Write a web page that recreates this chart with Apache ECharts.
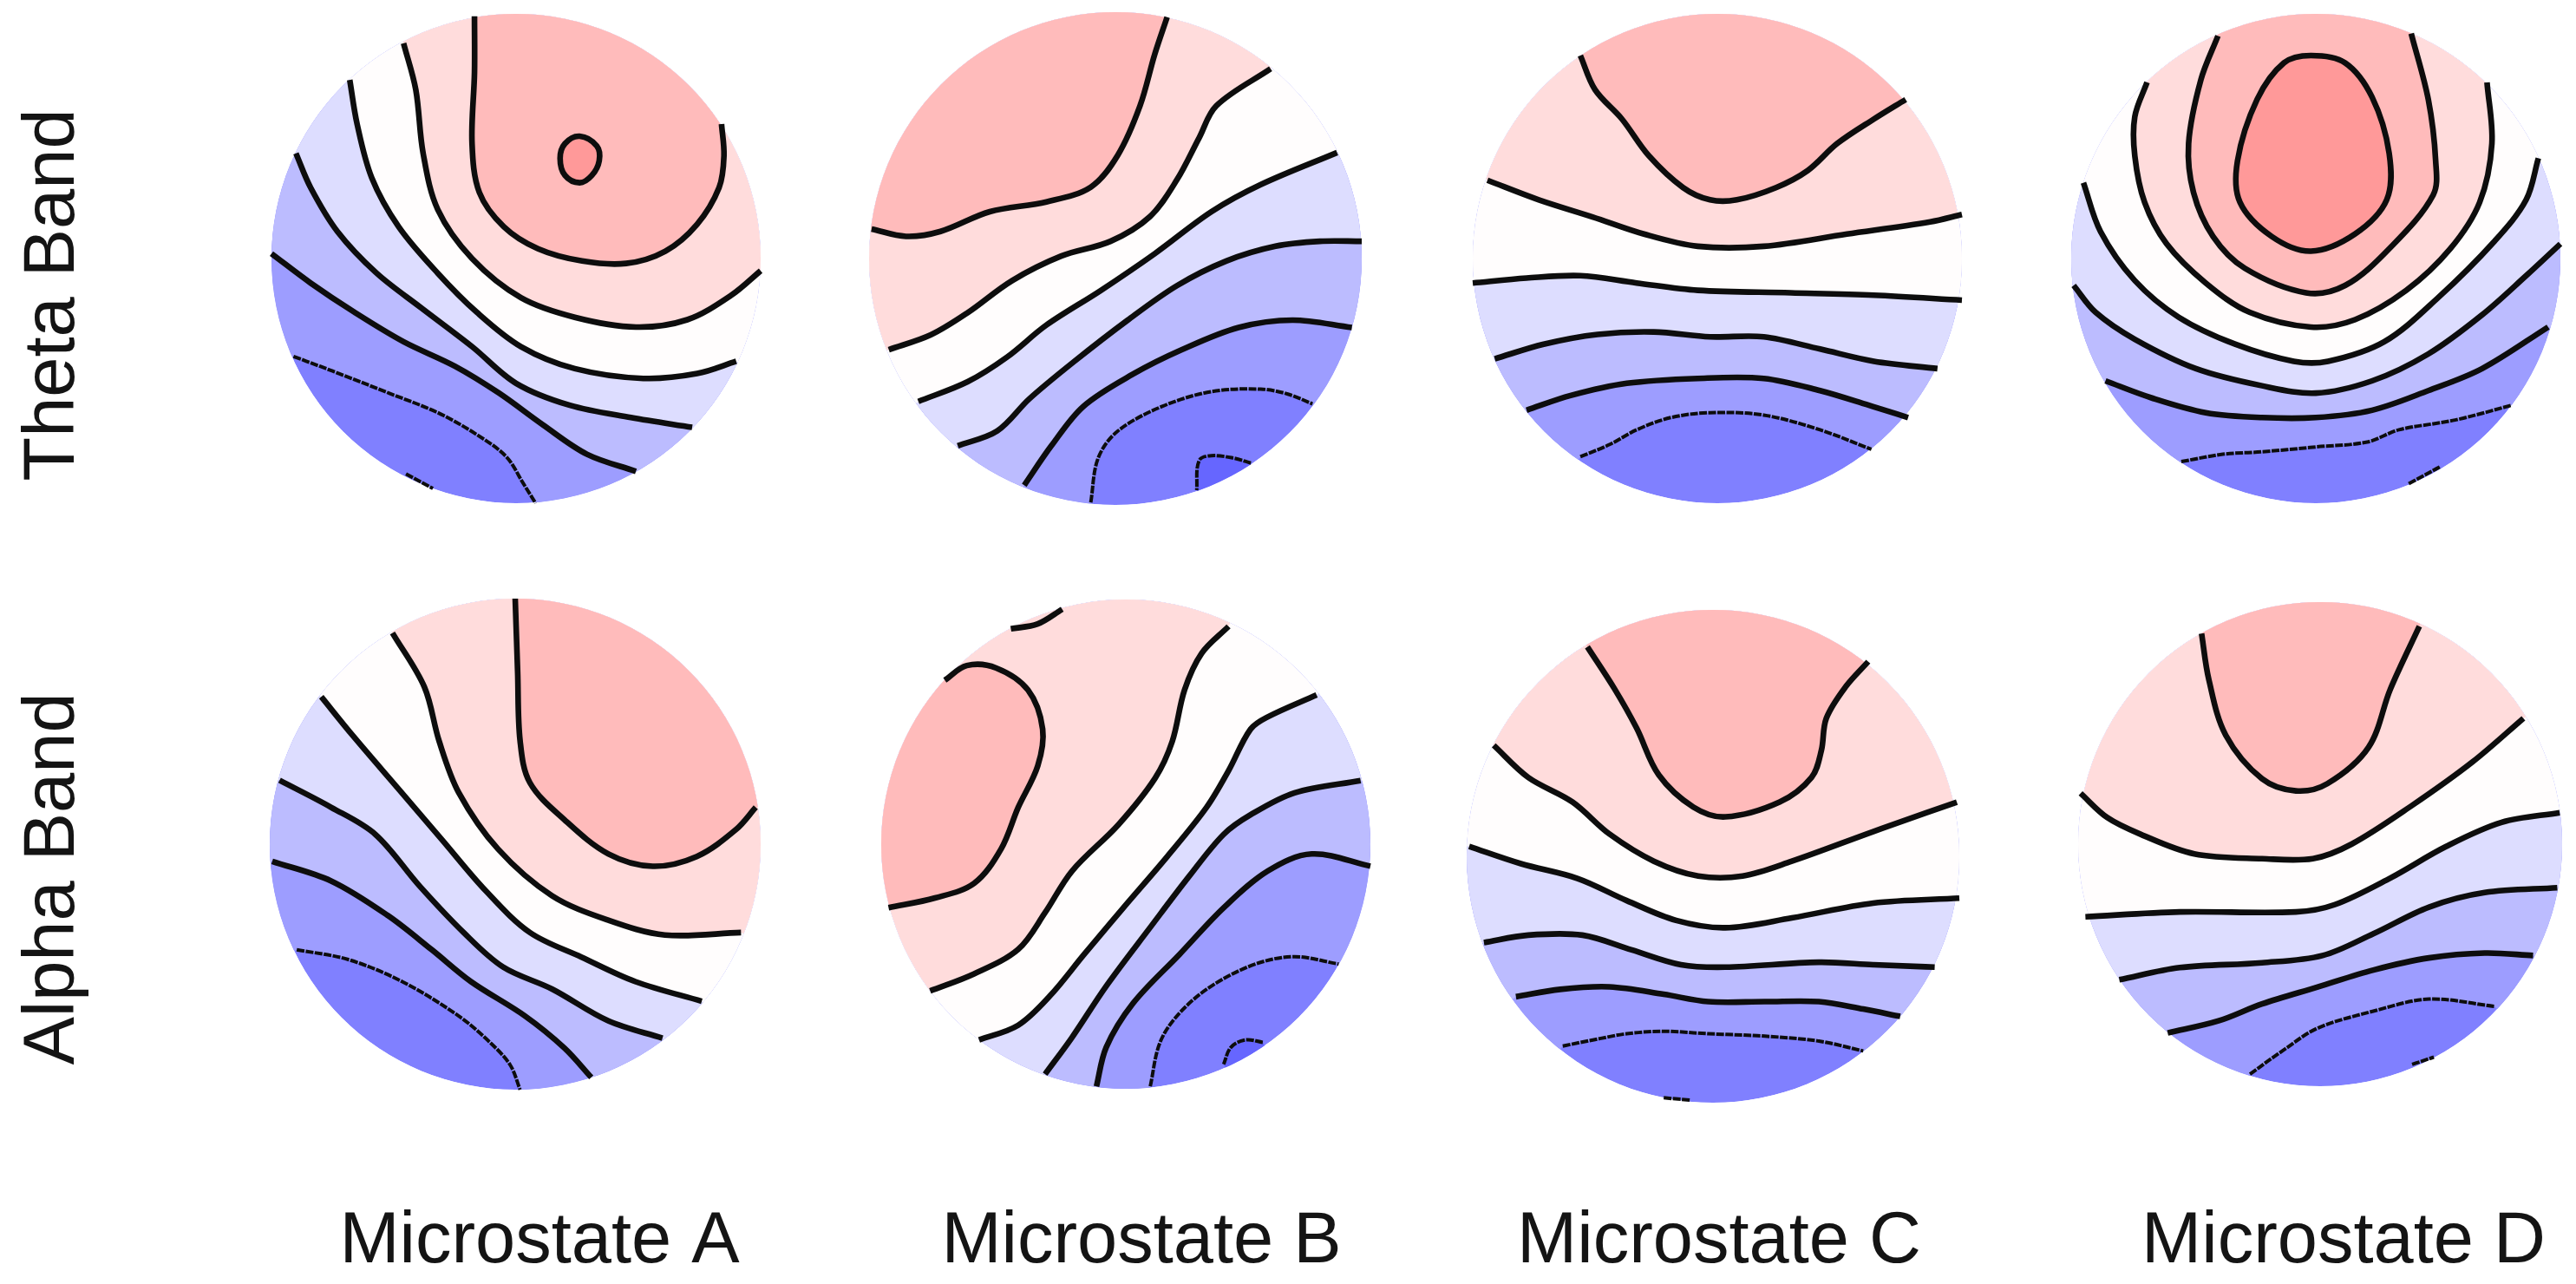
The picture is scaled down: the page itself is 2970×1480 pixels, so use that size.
<!DOCTYPE html>
<html><head><meta charset="utf-8">
<style>html,body{margin:0;padding:0;background:#fff}#c{width:2970px;height:1480px}</style>
<script src="https://cdn.jsdelivr.net/npm/echarts@6/dist/echarts.min.js"></script>
</head><body><div id="c"></div>
<script>
// Contour levels and labels
const bandColors = ['#6666ff','#8080ff','#9d9dff','#bcbcff','#ddddff','#fffdfd','#ffdcdc','#ffbbbb','#ff9999'];
const rowLabels = ['Theta Band','Alpha Band'];
const colLabels = ['Microstate A','Microstate B','Microstate C','Microstate D'];
// Each contour: fill band on its left (-1 none), fine line flag, closed flag, points on the scalp disc (-100..100)
const thetaA = [
 {f:-1,fine:1,p:[[-45,-88],[-34,-94]]},
 {f:2,fine:1,p:[[-91,-40],[-75,-46],[-52,-55],[-32,-63],[-16,-72],[-4,-81],[3,-92],[8,-100]]},
 {f:3,p:[[-100,2],[-84,-10],[-66,-22],[-46,-34],[-25,-44],[-7,-55],[11,-68],[29,-80],[49,-87]]},
 {f:4,p:[[-90,43],[-84,29],[-73,11],[-57,-6],[-39,-20],[-18,-36],[0,-51],[22,-60],[47,-65],[72,-69]]},
 {f:5,p:[[-68,73],[-65,55],[-59,33],[-48,13],[-32,-6],[-16,-22],[2,-36],[24,-45],[52,-49],[74,-47],[90,-42]]},
 {f:6,p:[[-46,88],[-41,69],[-38,43],[-32,20],[-18,0],[2,-16],[24,-24],[49,-28],[70,-25],[88,-15],[100,-5]]},
 {f:7,p:[[-17,99],[-17,76],[-18,47],[-15,27],[-5,13],[9,4],[27,-1],[45,-2],[61,3],[74,14],[83,29],[85,42],[84,55]]},
 {f:8,closed:1,p:[[26,50],[33,46],[34,40],[31,34],[26,31],[20,34],[18,41],[20,47]]}
];
const thetaB = [
 {f:2,fine:1,p:[[-10,-99],[-7,-81],[1,-70],[19,-60],[39,-54],[59,-53],[70,-55],[80,-59]]},
 {f:3,p:[[-37,-92],[-26,-76],[-13,-60],[7,-47],[27,-37],[50,-28],[72,-25],[96,-28]]},
 {f:4,p:[[-64,-76],[-48,-70],[-35,-57],[-17,-42],[5,-25],[25,-11],[45,-1],[65,5],[83,7],[100,7]]},
 {f:5,p:[[-80,-58],[-60,-50],[-44,-40],[-28,-27],[-6,-13],[16,2],[39,19],[59,30],[90,43]]},
 {f:6,p:[[-92,-37],[-75,-31],[-60,-22],[-42,-9],[-22,1],[-2,7],[14,17],[25,32],[34,49],[41,62],[63,77]]},
 {f:7,p:[[-99,12],[-85,9],[-71,11],[-51,19],[-28,23],[-10,29],[1,42],[10,62],[16,83],[21,98]]},
 {f:0,fine:1,p:[[55,-83],[48,-81],[39,-80],[34,-82],[33,-94]]}
];
const thetaC = [
 {f:2,fine:1,p:[[-56,-81],[-44,-76],[-33,-70],[-19,-65],[-3,-63],[19,-64],[42,-70],[63,-78]]},
 {f:3,p:[[-78,-62],[-60,-56],[-37,-51],[-8,-49],[19,-49],[42,-54],[62,-60],[78,-65]]},
 {f:4,p:[[-91,-41],[-71,-35],[-49,-31],[-26,-30],[-3,-32],[19,-32],[42,-37],[64,-42],[90,-45]]},
 {f:5,p:[[-100,-10],[-78,-8],[-56,-7],[-33,-10],[-8,-13],[30,-14],[64,-15],[100,-17]]},
 {f:6,p:[[-94,32],[-73,24],[-51,17],[-30,10],[-8,5],[19,5],[53,10],[87,15],[100,18]]},
 {f:7,p:[[-56,83],[-50,69],[-39,57],[-28,42],[-14,29],[-3,24],[8,24],[24,29],[37,36],[49,47],[64,57],[77,65]]}
];
const thetaD = [
 {f:-1,fine:1,p:[[38,-92],[51,-85]]},
 {f:2,fine:1,p:[[-55,-83],[-38,-80],[-22,-79],[0,-77],[21,-75],[34,-70],[57,-66],[80,-60]]},
 {f:3,p:[[-86,-50],[-67,-57],[-45,-63],[-22,-65],[0,-65],[23,-62],[46,-54],[68,-45],[95,-28]]},
 {f:4,p:[[-99,-11],[-90,-22],[-74,-33],[-49,-45],[-22,-52],[0,-55],[23,-50],[46,-39],[68,-23],[86,-7],[100,6]]},
 {f:5,p:[[-95,31],[-88,11],[-74,-9],[-56,-24],[-33,-35],[-9,-42],[5,-42],[28,-34],[50,-16],[73,7],[86,24],[91,41]]},
 {f:6,p:[[-69,72],[-74,58],[-74,42],[-70,23],[-61,6],[-45,-10],[-27,-22],[-2,-28],[16,-25],[37,-13],[55,4],[67,23],[72,47],[70,72]]},
 {f:7,p:[[-40,91],[-47,73],[-52,47],[-50,27],[-42,9],[-29,-4],[-4,-14],[12,-11],[30,4],[48,26],[49,40],[46,65],[39,92]]},
 {f:8,closed:1,p:[[-2,83],[12,80],[23,66],[30,43],[29,24],[16,10],[-2,3],[-18,9],[-31,23],[-32,40],[-24,65],[-13,80]]}
];
const alphaA = [
 {f:2,fine:1,p:[[-89,-43],[-68,-47],[-46,-56],[-23,-70],[-10,-81],[-2,-90],[2,-100]]},
 {f:3,p:[[-99,-7],[-75,-15],[-52,-29],[-34,-43],[-18,-56],[4,-70],[20,-83],[31,-95]]},
 {f:4,p:[[-96,26],[-75,15],[-57,4],[-39,-17],[-21,-36],[-5,-50],[15,-59],[38,-72],[60,-79]]},
 {f:5,p:[[-79,60],[-66,44],[-48,23],[-30,2],[-12,-19],[6,-36],[27,-46],[49,-56],[76,-64]]},
 {f:6,p:[[-50,86],[-37,64],[-31,42],[-23,21],[-7,-2],[15,-21],[38,-31],[61,-37],[92,-36]]},
 {f:7,p:[[0,100],[1,70],[2,42],[6,25],[20,10],[38,-4],[56,-9],[74,-5],[90,6],[98,15]]}
];
const alphaB = [
 {f:2,fine:1,p:[[10,-99],[14,-81],[22,-69],[35,-58],[53,-49],[69,-46],[87,-49]]},
 {f:3,p:[[-12,-99],[-8,-83],[3,-65],[22,-45],[40,-26],[58,-11],[76,-4],[100,-9]]},
 {f:4,p:[[-33,-94],[-22,-79],[-8,-58],[10,-34],[26,-13],[40,4],[51,12],[69,21],[96,26]]},
 {f:5,p:[[-60,-80],[-44,-74],[-31,-62],[-17,-45],[-1,-26],[17,-5],[33,15],[42,30],[51,47],[58,52],[78,61]]},
 {f:6,p:[[-80,-60],[-62,-53],[-44,-43],[-33,-28],[-22,-11],[-3,8],[12,27],[19,42],[24,63],[31,78],[42,89]]},
 {f:7,p:[[-97,-26],[-78,-22],[-62,-16],[-51,-2],[-44,15],[-36,32],[-34,47],[-40,63],[-53,72],[-65,73],[-74,67]]},
 {f:0,fine:1,p:[[56,-81],[49,-80],[43,-83],[40,-90]]},
 {f:-1,p:[[-47,88],[-36,90],[-26,96]]}
];
const alphaC = [
 {f:-1,fine:1,p:[[-20,-98],[-9,-99]]},
 {f:2,fine:1,p:[[-61,-77],[-46,-74],[-35,-72],[-20,-71],[-2,-72],[21,-73],[43,-75],[61,-79]]},
 {f:3,p:[[-80,-57],[-62,-54],[-42,-53],[-20,-56],[-2,-59],[21,-59],[43,-59],[61,-62],[76,-65]]},
 {f:4,p:[[-93,-35],[-75,-32],[-53,-32],[-33,-38],[-13,-44],[5,-45],[43,-43],[65,-44],[90,-45]]},
 {f:5,p:[[-99,4],[-78,-3],[-55,-9],[-35,-18],[-15,-26],[5,-29],[32,-25],[65,-19],[100,-17]]},
 {f:6,p:[[-89,45],[-75,32],[-57,22],[-42,9],[-24,-2],[-6,-8],[12,-8],[32,-2],[65,10],[99,22]]},
 {f:7,p:[[-51,85],[-40,68],[-31,52],[-22,33],[-8,20],[5,16],[27,22],[40,32],[44,43],[46,56],[54,69],[63,79]]}
];
const alphaD = [
 {f:-1,fine:1,p:[[38,-91],[47,-88]]},
 {f:2,fine:1,p:[[-29,-95],[-15,-85],[-1,-76],[22,-69],[45,-64],[72,-67]]},
 {f:3,p:[[-63,-78],[-42,-73],[-24,-66],[-1,-59],[22,-52],[45,-47],[68,-45],[88,-46]]},
 {f:4,p:[[-83,-56],[-58,-51],[-24,-49],[1,-46],[22,-37],[45,-26],[68,-20],[98,-18]]},
 {f:5,p:[[-97,-30],[-58,-28],[-10,-28],[6,-25],[29,-14],[52,-1],[75,9],[99,13]]},
 {f:6,p:[[-99,21],[-88,11],[-74,4],[-52,-4],[-24,-6],[-3,-6],[13,0],[38,16],[63,34],[84,52]]},
 {f:7,p:[[-49,87],[-46,68],[-39,45],[-24,27],[-10,22],[3,25],[20,40],[29,64],[41,90]]}
];
const panelData = [thetaA,thetaB,thetaC,thetaD,alphaA,alphaB,alphaC,alphaD];
const panelNames = ['Theta A','Theta B','Theta C','Theta D','Alpha A','Alpha B','Alpha C','Alpha D'];

// Layout
const discs = [[595,298,282],[1286,298,284],[1980,298,282],[2670,298,282],[594,973,283],[1298,973,282],[1975,987,284],[2675,973,279]];
const colCenters = [622,1316,1982,2702];
const baseFill = 1, ringR = 150;

function unitTangents(pts, closed){
  const n = pts.length;
  return pts.map((q,i)=>{
    const a = closed ? pts[(i-1+n)%n] : pts[Math.max(i-1,0)];
    const b = closed ? pts[(i+1)%n] : pts[Math.min(i+1,n-1)];
    const dx = b[0]-a[0], dy = b[1]-a[1], l = Math.hypot(dx,dy)||1;
    return [dx/l,dy/l];
  });
}
function curve(pts, closed){
  const t = unitTangents(pts, closed), n = pts.length;
  let d = 'M'+pts[0][0]+' '+pts[0][1];
  const m = closed ? n : n-1;
  for(let i=0;i<m;i++){
    const j=(i+1)%n, a=pts[i], b=pts[j], h=Math.hypot(b[0]-a[0],b[1]-a[1])/3;
    d += 'C'+(a[0]+t[i][0]*h)+' '+(a[1]+t[i][1]*h)+' '+(b[0]-t[j][0]*h)+' '+(b[1]-t[j][1]*h)+' '+b[0]+' '+b[1];
  }
  return closed ? d+'Z' : d;
}
function fillPath(c, api){
  const px = c.p.map(q=>api.coord(q));
  let d = curve(px, !!c.closed);
  if(c.closed) return d;
  const s = c.p[0], e = c.p[c.p.length-1];
  const a0 = Math.atan2(e[1],e[0]);
  let a1 = Math.atan2(s[1],s[0]);
  while(a1<=a0) a1 += Math.PI*2;
  for(let k=0;k<=36;k++){
    const a = a0+(a1-a0)*k/36;
    const q = api.coord([ringR*Math.cos(a),ringR*Math.sin(a)]);
    d += 'L'+q[0]+' '+q[1];
  }
  return d+'Z';
}
function makeSeries(i){
  const cs = panelData[i];
  const fills = {
    type:'custom', name:panelNames[i]+' bands', xAxisIndex:i, yAxisIndex:i, silent:true, animation:false, z:1,
    data:cs.map(c=>c.p[0]),
    renderItem(params, api){
      const o = api.coord([0,0]), r = Math.abs(api.size([100,0])[0]);
      const clip = {type:'circle',shape:{cx:o[0],cy:o[1],r:r}};
      const kids = [];
      if(params.dataIndex===0) kids.push({type:'circle',shape:{cx:o[0],cy:o[1],r:r},style:{fill:bandColors[baseFill]}});
      const c = cs[params.dataIndex];
      if(c.f>=0) kids.push({type:'path',shape:{pathData:fillPath(c,api)},style:{fill:bandColors[c.f]}});
      return {type:'group',clipPath:clip,children:kids};
    }
  };
  const lines = {
    type:'custom', name:panelNames[i]+' contours', xAxisIndex:i, yAxisIndex:i, silent:true, animation:false, z:2,
    data:cs.map(c=>c.p[0]),
    renderItem(params, api){
      const c = cs[params.dataIndex];
      return {type:'path',shape:{pathData:curve(c.p.map(q=>api.coord(q)),!!c.closed)},
        style:{fill:'none',stroke:'#0d0d0d',lineWidth:c.fine?4:6.6,lineDash:c.fine?[9,1.5]:null,lineCap:'butt',lineJoin:'round'}};
    }
  };
  return [fills,lines];
}
const chart = echarts.init(document.getElementById('c'),null,{renderer:'canvas'});
const axis = ()=>({type:'value',min:-100,max:100,show:false});
const textStyle = {fontFamily:'"Liberation Sans",Arial,sans-serif',fontSize:83,fill:'#141414',textAlign:'center',textVerticalAlign:'middle'};
chart.setOption({
  backgroundColor:'#ffffff',
  animation:false,
  tooltip:{show:false},
  grid:discs.map(d=>({left:d[0]-d[2],top:d[1]-d[2],width:2*d[2],height:2*d[2],containLabel:false})),
  xAxis:discs.map((d,i)=>Object.assign(axis(),{gridIndex:i})),
  yAxis:discs.map((d,i)=>Object.assign(axis(),{gridIndex:i})),
  series:discs.flatMap((d,i)=>makeSeries(i)),
  graphic:[
    ...rowLabels.map((t,i)=>({type:'text',x:62,y:[340,1013][i],rotation:Math.PI/2,style:Object.assign({text:t},textStyle)})),
    ...colLabels.map((t,i)=>({type:'text',x:colCenters[i],y:1432,style:Object.assign({text:t},textStyle)}))
  ]
});
</script></body></html>
